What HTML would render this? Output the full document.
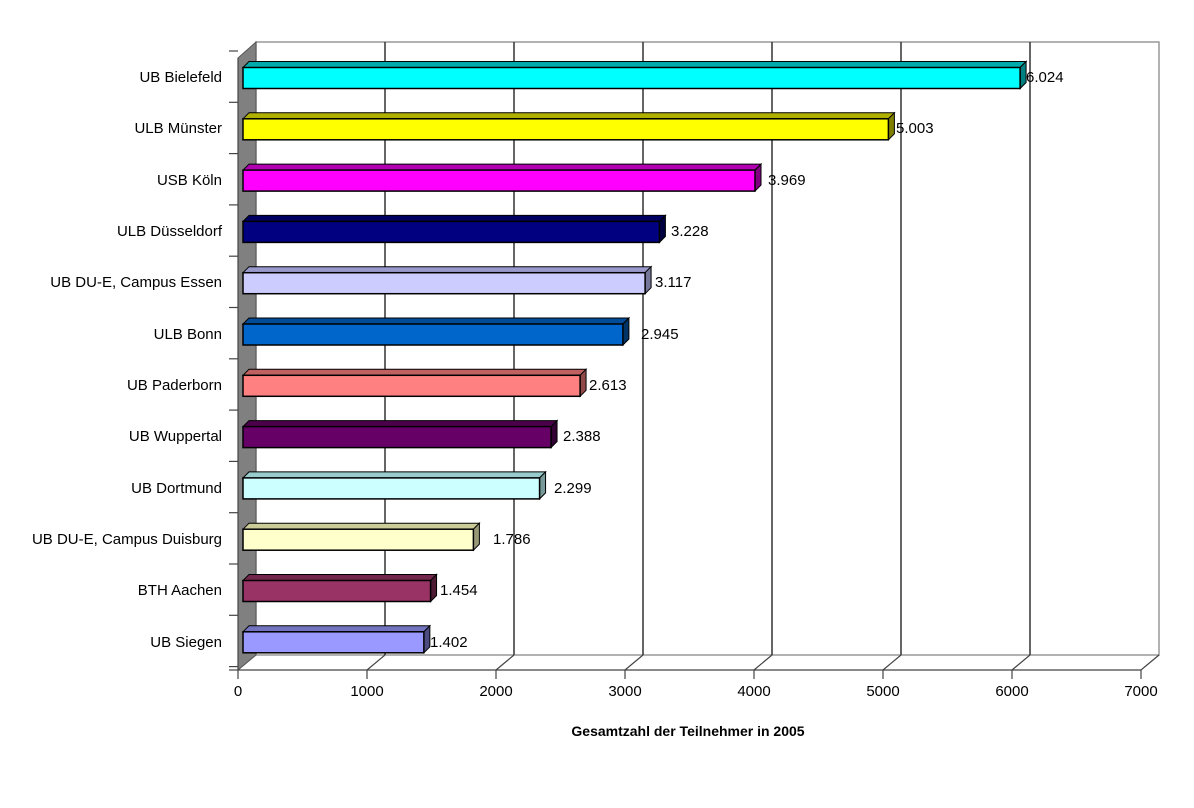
<!DOCTYPE html>
<html><head><meta charset="utf-8"><style>
body{margin:0;background:#fff}
svg text{font-family:"Liberation Sans",Arial,sans-serif;font-size:15px;fill:#000}
</style></head><body>
<svg id="s" width="1194" height="803" viewBox="0 0 1194 803" xmlns="http://www.w3.org/2000/svg">
<rect width="1194" height="803" fill="#fff"/>
<rect x="256" y="42" width="903" height="613" fill="#fff" stroke="#999" stroke-width="1.5"/>
<g stroke="#333" stroke-width="1.5">
<line x1="385" y1="42" x2="385" y2="655"/><line x1="514" y1="42" x2="514" y2="655"/>
<line x1="643" y1="42" x2="643" y2="655"/><line x1="772" y1="42" x2="772" y2="655"/>
<line x1="901" y1="42" x2="901" y2="655"/><line x1="1030" y1="42" x2="1030" y2="655"/>
</g>
<polygon points="238,58 256,42 256,655 238,670" fill="#808080" stroke="#555" stroke-width="1"/>
<g stroke="#444" stroke-width="1.2" fill="none">
<line x1="238" y1="670" x2="1141" y2="670"/>
<line x1="1141" y1="670" x2="1159" y2="655"/>
<line x1="238" y1="58" x2="238" y2="670"/>
<line x1="229" y1="670" x2="238" y2="670"/>
</g>
<g id="ticks" stroke="#444" stroke-width="1.2"></g>
<g id="bars"></g>
<g text-anchor="end">
<text x="222" y="82">UB Bielefeld</text>
<text x="222" y="133">ULB Münster</text>
<text x="222" y="185">USB Köln</text>
<text x="222" y="236">ULB Düsseldorf</text>
<text x="222" y="287">UB DU-E, Campus Essen</text>
<text x="222" y="339">ULB Bonn</text>
<text x="222" y="390">UB Paderborn</text>
<text x="222" y="441">UB Wuppertal</text>
<text x="222" y="493">UB Dortmund</text>
<text x="222" y="544">UB DU-E, Campus Duisburg</text>
<text x="222" y="595">BTH Aachen</text>
<text x="222" y="647">UB Siegen</text>
</g>
<g>
<text x="1026" y="82">6.024</text>
<text x="896" y="133">5.003</text>
<text x="768" y="185">3.969</text>
<text x="671" y="236">3.228</text>
<text x="655" y="287">3.117</text>
<text x="641" y="339">2.945</text>
<text x="589" y="390">2.613</text>
<text x="563" y="441">2.388</text>
<text x="554" y="493">2.299</text>
<text x="493" y="544">1.786</text>
<text x="440" y="595">1.454</text>
<text x="430" y="647">1.402</text>
</g>
<g text-anchor="middle">
<text x="238" y="696">0</text><text x="367" y="696">1000</text><text x="496" y="696">2000</text>
<text x="625" y="696">3000</text><text x="754" y="696">4000</text><text x="883" y="696">5000</text>
<text x="1012" y="696">6000</text><text x="1141" y="696">7000</text>
<text x="688" y="736" style="font-weight:bold;font-size:14px">Gesamtzahl der Teilnehmer in 2005</text>
</g>
<script>
(function(){
var NS="http://www.w3.org/2000/svg";
function el(p,t,a){var e=document.createElementNS(NS,t);for(var k in a)e.setAttribute(k,a[k]);p.appendChild(e);}
var tk=document.getElementById("ticks");
for(var k=0;k<=7;k++){var x=238+129*k;el(tk,"line",{x1:x,y1:670,x2:x,y2:679});if(k>0&&k<7)el(tk,"line",{x1:x,y1:670,x2:x+18,y2:655});}
for(var i=0;i<=12;i++){var y=51+51.3*i;el(tk,"line",{x1:229,y1:y,x2:238,y2:y});}
var v=[6024,5003,3969,3228,3117,2945,2613,2388,2299,1786,1454,1402];
var c=[["#00ffff","#00aaaa","#008080"],["#ffff00","#b0b000","#808000"],["#ff00ff","#b000b0","#800080"],["#000080","#000060","#000040"],["#ccccff","#9999cc","#777799"],["#0066cc","#004c99","#003366"],["#ff8080","#c06060","#904848"],["#660066","#4c004c","#330033"],["#ccffff","#99cccc","#779999"],["#ffffcc","#cccc99","#999977"],["#993366","#73264c","#4c1a33"],["#9999ff","#7373bf","#4c4c80"]];
var b=document.getElementById("bars");
for(var i=0;i<12;i++){
var cy=77.5+51.3*i,y=cy-10,h=21,w=v[i]*0.129,x=243,d=6;
el(b,"polygon",{points:[x,y,x+d,y-d,x+w+d,y-d,x+w,y].join(","),fill:c[i][1],stroke:"#000","stroke-width":1});
el(b,"polygon",{points:[x+w,y,x+w+d,y-d,x+w+d,y+h-d,x+w,y+h].join(","),fill:c[i][2],stroke:"#000","stroke-width":1});
el(b,"rect",{x:x,y:y,width:w,height:h,fill:c[i][0],stroke:"#000","stroke-width":1.5});
}
})();
</script>
</svg>
</body></html>
